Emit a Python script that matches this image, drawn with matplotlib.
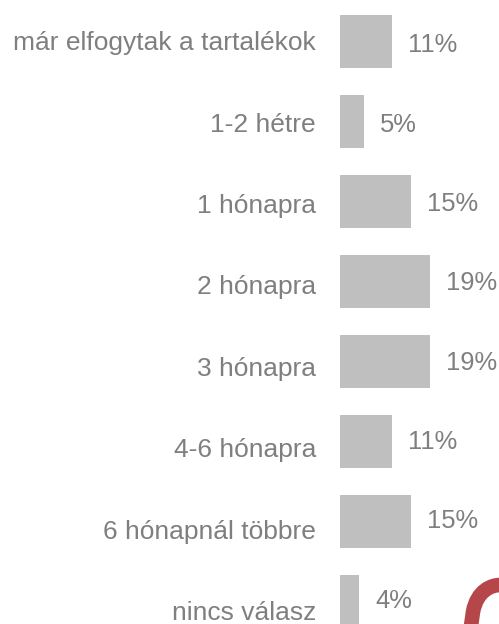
import matplotlib.pyplot as plt
from matplotlib.path import Path
from matplotlib.patches import PathPatch
from matplotlib.transforms import offset_copy

categories = ["már elfogytak a tartalékok", "1-2 hétre", "1 hónapra", "2 hónapra",
              "3 hónapra", "4-6 hónapra", "6 hónapnál többre", "nincs válasz"]
values = [11, 5, 15, 19, 19, 11, 15, 4]
value_labels = ["11%", "5%", "15%", "19%", "19%", "11%", "15%", "4%"]

plt.rcParams['font.family'] = ['Liberation Sans', 'DejaVu Sans']

W, H = 499, 624
fig = plt.figure(figsize=(W / 100, H / 100), dpi=100)

# axes starts where the bars start
ax = fig.add_axes([340 / W, 0, 1 - 340 / W, 1])
ax.set_xlim(0, (W - 340) / 4.73)
ax.set_ylim(7.28, -0.52)
ax.axis('off')

y = list(range(len(categories)))
ax.barh(y, values, height=0.66, color='#bfbfbf')

for i, (cat, v, lab) in enumerate(zip(categories, values, value_labels)):
    # category labels left of the bars
    tr = offset_copy(ax.transData, fig=fig, x=-24, y=-(8.5 + 1.4 * i), units='dots')
    ax.text(0, i, cat, transform=tr, ha='right', va='baseline',
            fontsize=19, color='#7f7f7f')
    # value labels right of the bars
    tr2 = offset_copy(ax.transData, fig=fig, x=16, y=-(10.5 - 0.6 * i), units='dots')
    ax.text(v, i, lab, transform=tr2, ha='left', va='baseline',
            fontsize=18.4, color='#7f7f7f')

# piece of the red logo in the corner
verts = [(469 / W, 1 - 640 / H), (473 / W, 1 - 612 / H), (477 / W, 1 - 590 / H),
         (492 / W, 1 - 585 / H), (500 / W, 1 - 585 / H), (510 / W, 1 - 585 / H)]
codes = [Path.MOVETO, Path.LINETO, Path.CURVE4, Path.CURVE4, Path.CURVE4, Path.LINETO]
logo = PathPatch(Path(verts, codes), transform=fig.transFigure, fill=False,
                 edgecolor='#b5474b', linewidth=10.5, capstyle='butt')
fig.patches.append(logo)

fig.savefig("out.png", dpi=100)
